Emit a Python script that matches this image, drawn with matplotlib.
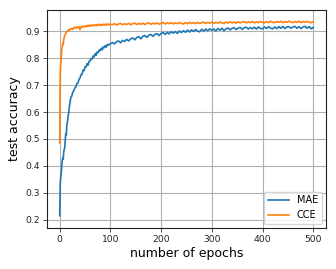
import matplotlib
matplotlib.use("Agg")
import matplotlib.pyplot as plt

# epochs: every epoch 0..20, every 2 epochs 22..100, every 4 epochs 104..500
epochs_a = list(range(0, 21))
epochs_b = list(range(22, 101, 2))
epochs_c = list(range(104, 501, 4))
epochs = epochs_a + epochs_b + epochs_c

mae = [
    0.215, 0.33, 0.36, 0.37, 0.40, 0.42, 0.43, 0.425, 0.455, 0.46, 0.47,
    0.50, 0.52, 0.515, 0.55, 0.56, 0.575, 0.59, 0.60, 0.62, 0.63,
    # 22..100 step 2
    0.655, 0.66, 0.675, 0.680, 0.690, 0.694, 0.706, 0.708, 0.721, 0.726,
    0.739, 0.740, 0.755, 0.754, 0.768, 0.767, 0.780, 0.774, 0.789, 0.790,
    0.799, 0.797, 0.808, 0.805, 0.817, 0.811, 0.823, 0.821, 0.830, 0.828,
    0.837, 0.831, 0.842, 0.839, 0.847, 0.841, 0.851, 0.848, 0.852, 0.853,
    # 104..500 step 4
    0.858, 0.853, 0.861, 0.864, 0.857, 0.866, 0.862, 0.870, 0.864, 0.872,
    0.875, 0.868, 0.877, 0.880, 0.872, 0.881, 0.884, 0.877, 0.886, 0.888,
    0.881, 0.889, 0.891, 0.884, 0.892, 0.895, 0.888, 0.896, 0.890, 0.898,
    0.893, 0.899, 0.892, 0.901, 0.895, 0.902, 0.896, 0.904, 0.897, 0.905,
    0.899, 0.906, 0.900, 0.898, 0.907, 0.901, 0.908, 0.902, 0.909, 0.903,
    0.908, 0.901, 0.910, 0.904, 0.911, 0.902, 0.909, 0.912, 0.905, 0.911,
    0.913, 0.906, 0.912, 0.914, 0.907, 0.913, 0.915, 0.908, 0.914, 0.909,
    0.915, 0.908, 0.916, 0.910, 0.909, 0.916, 0.910, 0.917, 0.911, 0.909,
    0.916, 0.910, 0.917, 0.911, 0.918, 0.910, 0.916, 0.917, 0.911, 0.916,
    0.918, 0.911, 0.917, 0.910, 0.916, 0.918, 0.911, 0.917, 0.909, 0.914,
]

cce = [
    0.486, 0.74, 0.78, 0.80, 0.83, 0.845, 0.855, 0.85, 0.87, 0.878, 0.885,
    0.888, 0.893, 0.895, 0.898, 0.900, 0.902, 0.903, 0.905, 0.904, 0.907,
    # 22..100 step 2
    0.908, 0.911, 0.907, 0.913, 0.915, 0.911, 0.916, 0.913, 0.917, 0.906,
    0.916, 0.918, 0.915, 0.919, 0.916, 0.921, 0.917, 0.922, 0.918, 0.923,
    0.919, 0.923, 0.920, 0.924, 0.921, 0.925, 0.920, 0.924, 0.926, 0.921,
    0.925, 0.922, 0.926, 0.923, 0.927, 0.922, 0.926, 0.927, 0.923, 0.926,
    # 104..500 step 4
    0.924, 0.928, 0.923, 0.927, 0.929, 0.924, 0.928, 0.925, 0.929, 0.924,
    0.928, 0.930, 0.925, 0.929, 0.926, 0.930, 0.925, 0.929, 0.931, 0.926,
    0.930, 0.927, 0.931, 0.926, 0.930, 0.932, 0.927, 0.931, 0.928, 0.932,
    0.927, 0.931, 0.928, 0.932, 0.929, 0.927, 0.932, 0.928, 0.933, 0.929,
    0.932, 0.928, 0.933, 0.929, 0.932, 0.934, 0.929, 0.933, 0.930, 0.934,
    0.929, 0.933, 0.930, 0.934, 0.931, 0.929, 0.934, 0.930, 0.935, 0.931,
    0.934, 0.930, 0.935, 0.931, 0.934, 0.936, 0.931, 0.935, 0.932, 0.936,
    0.931, 0.935, 0.932, 0.936, 0.933, 0.931, 0.936, 0.932, 0.937, 0.933,
    0.932, 0.936, 0.933, 0.937, 0.932, 0.936, 0.933, 0.937, 0.934, 0.932,
    0.936, 0.933, 0.937, 0.932, 0.936, 0.933, 0.937, 0.933, 0.932, 0.935,
]

series_names = ["MAE", "CCE"]
x_ticks = [0, 100, 200, 300, 400, 500]
y_ticks = [0.2, 0.3, 0.4, 0.5, 0.6, 0.7, 0.8, 0.9]

fig = plt.figure(figsize=(3.36, 2.69), dpi=100)
ax = fig.add_axes([0.140, 0.152, 0.830, 0.811])

ax.plot(epochs, mae, color="#1f77b4", lw=1.2, label=series_names[0])
ax.plot(epochs, cce, color="#ff7f0e", lw=1.2, label=series_names[1])

ax.set_xlim(-25, 525)
ax.set_ylim(0.169, 0.979)
ax.set_xticks(x_ticks)
ax.set_yticks(y_ticks)
ax.set_yticklabels([f"{v:.1f}" for v in y_ticks])
ax.tick_params(labelsize=6.6, length=3, width=0.6, pad=2, colors="#333333",
               labelcolor="#222222")
ax.grid(True, color="#b0b0b0", lw=0.8)
for s in ax.spines.values():
    s.set_color("#222222")
    s.set_linewidth(0.8)

ax.set_xlabel("number of epochs", fontsize=9, labelpad=2)
ax.set_ylabel("test accuracy", fontsize=9, labelpad=3)
ax.legend(loc="lower right", fontsize=7, framealpha=0.8, borderaxespad=0.4,
          handlelength=2.2)

fig.savefig("out.png", dpi=100)
